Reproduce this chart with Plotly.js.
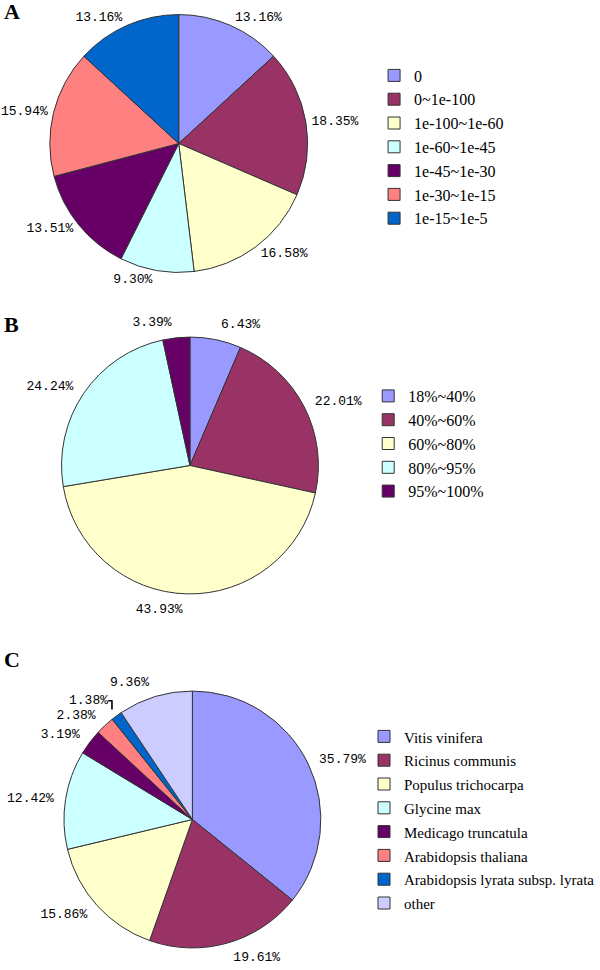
<!DOCTYPE html>
<html>
<head>
<meta charset="utf-8">
<script src="https://cdn.plot.ly/plotly-3.0.1.min.js"></script>
<style>
html,body{margin:0;padding:0;background:#fff;}
#chart{width:600px;height:970px;}
</style>
</head>
<body>
<div id="chart"></div>
<script>
// ---- Data ----
const labelsA = ['0', '0~1e-100', '1e-100~1e-60', '1e-60~1e-45', '1e-45~1e-30', '1e-30~1e-15', '1e-15~1e-5'];
const valuesA = [13.16, 18.35, 16.58, 9.30, 13.51, 15.94, 13.16];

const labelsB = ['18%~40%', '40%~60%', '60%~80%', '80%~95%', '95%~100%'];
const valuesB = [6.43, 22.01, 43.93, 24.24, 3.39];

const labelsC = ['Vitis vinifera', 'Ricinus communis', 'Populus trichocarpa', 'Glycine max',
                 'Medicago truncatula', 'Arabidopsis thaliana', 'Arabidopsis lyrata subsp. lyrata', 'other'];
const valuesC = [35.79, 19.61, 15.86, 12.42, 3.19, 2.38, 1.38, 9.36];

const panelLetters = ['A', 'B', 'C'];

// ---- Styles ----
const palette = ['#9999FF', '#993366', '#FFFFCC', '#CCFFFF', '#660066', '#FF8080', '#0066CC', '#CCCCFF'];
const sliceLine = {color: '#333333', width: 1};
const labelFont = {family: 'Liberation Mono, monospace', size: 13, color: '#000'};
const W = 600, H = 970;

// pie geometry in pixels: centre and radius; labels sit on a slightly larger ring
function domainFor(cx, cy, r) {
  return {x: [(cx - r) / W, (cx + r) / W], y: [1 - (cy + r) / H, 1 - (cy - r) / H]};
}

function pieTraces(labels, values, cx, cy, r, gap, legendId, legendLabels) {
  const common = {type: 'pie', values: values, sort: false, direction: 'clockwise',
                  rotation: 0, automargin: false, hoverinfo: 'none'};
  const slices = Object.assign({}, common, {
    labels: legendLabels || labels,
    marker: {colors: palette.slice(0, labels.length), line: sliceLine},
    textinfo: 'none',
    domain: domainFor(cx, cy, r),
    legend: legendId
  });
  const labelRing = Object.assign({}, common, {
    labels: labels,
    marker: {colors: labels.map(() => 'rgba(0,0,0,0)'), line: {width: 0}},
    texttemplate: '%{value:.2f}%',
    textposition: 'outside',
    outsidetextfont: labelFont,
    domain: domainFor(cx, cy, r + gap),
    showlegend: false
  });
  return [slices, labelRing];
}

const data = [].concat(
  pieTraces(labelsA, valuesA, 183, 143.5, 132, 2, 'legend'),
  pieTraces(labelsB, valuesB, 194.5, 465.5, 131.5, 8, 'legend2'),
  pieTraces(labelsC, valuesC, 197, 819.5, 131.5, 8, 'legend3',
            labelsC.map(l => '<span style="font-size:15px">' + l + '</span>'))
);

const legendBase = {
  xanchor: 'left', yanchor: 'top', bgcolor: 'rgba(0,0,0,0)', borderwidth: 0,
  traceorder: 'normal'
};

const layout = {
  width: W, height: H,
  margin: {l: 0, r: 0, t: 0, b: 0},
  paper_bgcolor: '#fff',
  showlegend: true,
  legend: Object.assign({}, legendBase, {x: 383 / W, y: 1 - 58.5 / H,
    font: {family: 'Liberation Serif, serif', size: 16, color: '#000'}}),
  legend2: Object.assign({}, legendBase, {x: 377 / W, y: 1 - 379 / H,
    font: {family: 'Liberation Serif, serif', size: 16, color: '#000'}}),
  legend3: Object.assign({}, legendBase, {x: 373 / W, y: 1 - 719.5 / H,
    font: {family: 'Liberation Serif, serif', size: 16, color: '#000'}}),
  annotations: [
    {text: '<b>' + panelLetters[0] + '</b>', x: 2 / W, y: 1 - 12 / H},
    {text: '<b>' + panelLetters[1] + '</b>', x: 2 / W, y: 1 - 325 / H},
    {text: '<b>' + panelLetters[2] + '</b>', x: 2 / W, y: 1 - 659 / H}
  ].map(a => Object.assign(a, {xref: 'paper', yref: 'paper', xanchor: 'left', yanchor: 'middle',
      showarrow: false, font: {family: 'Liberation Serif, serif', size: 22, color: '#000'}}))
};

Plotly.newPlot('chart', data, layout, {staticPlot: true});
</script>
</body>
</html>
